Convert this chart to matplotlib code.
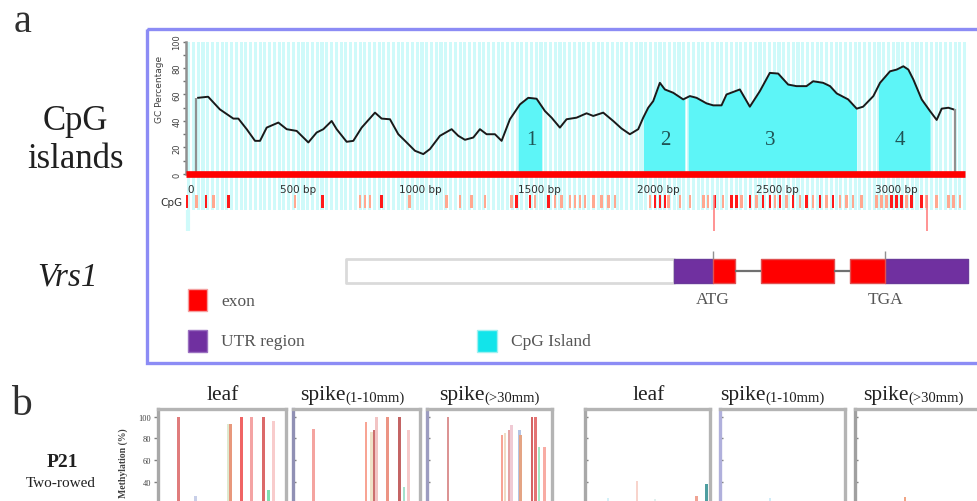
import matplotlib.pyplot as plt
import matplotlib.patches as mpatches
import numpy as np

plt.rcParams['font.family'] = ['Liberation Serif', 'DejaVu Serif']

# ---- panel a: GC content (%) along the Vrs1 region, positions in bp
gc_pos = [106, 148, 197, 254, 275, 310, 345, 366, 394, 443, 478, 520, 569, 604,
          632, 667, 688, 730, 758, 793, 849, 877, 912, 947, 982, 1017, 1052, 1080,
          1122, 1171, 1199, 1227, 1262, 1290, 1318, 1353, 1381, 1416, 1458, 1493,
          1528, 1563, 1591, 1626, 1654, 1696, 1738, 1766, 1808, 1850, 1885, 1920,
          1955, 1976, 1997, 2018, 2046, 2067, 2102, 2144, 2172, 2200, 2242, 2270,
          2305, 2326, 2382, 2424, 2466, 2508, 2543, 2585, 2620, 2662, 2690, 2732,
          2761, 2789, 2837, 2873, 2900, 2943, 2971, 3013, 3041, 3069, 3090, 3111,
          3146, 3181, 3209, 3230, 3258, 3279]
gc_val = [57.5, 58.3, 48.8, 41.8, 41.8, 33.8, 25, 25, 35, 38.8, 33.8, 32.5, 23.8, 31.3,
          33.8, 40, 33.8, 24.3, 25, 35, 46.3, 41.8, 41.3, 30, 23.8, 17.5, 15, 18.8,
          28.8, 33.8, 28.8, 25.8, 27.5, 33.8, 30, 30, 25, 41.3, 52.5, 57.5,
          56.8, 47.5, 42.5, 35, 41.3, 42.5, 45.8, 43.8, 46.3, 40, 34.3, 30,
          33.8, 42.5, 50, 55, 68.8, 63.8, 61.3, 56.3, 58.8, 57.5, 53.3, 51.8,
          51.8, 60, 63.8, 50.8, 62.5, 76.3, 75.8, 67.5, 66.3, 66.3, 70, 68.8,
          66.3, 60.8, 56.3, 49.3, 50.8, 58.8, 68.8, 77.5, 78.8, 81.3, 78.8, 71.3,
          56.3, 47.5, 40.8, 49.3, 50, 48.8]
seq_start, seq_end = 99, 3286
islands = [(1451, 1549), (1976, 2151), (2165, 2873), (2964, 3181)]
island_names = ['1', '2', '3', '4']
island_label_x = [1507, 2067, 2508, 3055]

cpg_pos = [57, 99, 139, 170, 233, 513, 629, 786, 807, 828, 877, 993, 1150, 1206,
           1255, 1311, 1423, 1444, 1500, 1521, 1577, 1605, 1633, 1668, 1689, 1710,
           1731, 1766, 1801, 1829, 1857, 2004, 2025, 2046, 2067, 2081, 2130, 2172,
           2228, 2249, 2277, 2312, 2347, 2368, 2389, 2424, 2452, 2480, 2508, 2529,
           2550, 2578, 2606, 2634, 2662, 2690, 2718, 2746, 2774, 2802, 2830, 2858,
           2893, 2956, 2977, 2998, 3019, 3040, 3061, 3082, 3103, 3145, 3166, 3208,
           3258, 3279, 3307]
cpg_strong = [57, 139, 233, 629, 877, 1444, 1500, 1577, 2025, 2046, 2067, 2277,
              2347, 2368, 2424, 2480, 2508, 2550, 2606, 2662, 2718, 2774, 3019,
              3040, 3061, 3103, 3145]
cpg_links = [2273, 3168]
scale_ticks = [500, 1000, 1500, 2000, 2500, 3000]

# gene model (bp)
promoter = (727, 2105)
utrs = [(2105, 2269), (2992, 3340)]
exons = [(2269, 2361), (2471, 2777), (2845, 2992)]
codons = {'ATG': 2269, 'TGA': 2992}

# ---- panel b: methylation (%) per site
tissues = ['leaf', 'spike', 'spike']
tissue_sub = ['', '(1-10mm)', '(>30mm)']
b_sites = [
    [16, 29.5, 55, 57, 65, 73.4, 82.5, 86.4, 90.6],
    [16.5, 57.5, 61.7, 63.8, 66.1, 74.4, 83.5, 87.4, 91.3],
    [16.8, 60, 62.4, 65.6, 67.5, 74, 75, 84, 87, 89.6, 94],
    [18.4, 41.6, 56, 89.4, 97.4],
    [40, 42.4],
    [40],
]
b_vals = [
    [100, 27, 93, 93, 100, 100, 100, 32, 96],
    [89, 95, 86, 88, 100, 100, 100, 35, 88],
    [100, 83, 85, 88, 92, 88, 83, 100, 100, 72, 72],
    [25, 41, 24, 27, 38],
    [25, 20],
    [26],
]
b_colors = [
    ['#e07c7c', '#c8cfe8', '#dfe9cf', '#e8987c', '#f06464', '#f4a4a4', '#dc6a6a', '#7fe0b0', '#f8cccc'],
    ['#f4a4a0', '#f8a494', '#efe2c8', '#cc7070', '#f2c4c4', '#ec9484', '#c46464', '#a4e2cc', '#f6caca'],
    ['#dc9494', '#f8a494', '#f0dcc4', '#e4a4a4', '#f0cad4', '#b4c4e4', '#e4a484', '#d46464', '#e47474', '#a4e8c4', '#f8aca4'],
    ['#d4f0f8', '#f8d4cc', '#e0f0ee', '#f0a494', '#4e9ea0'],
    ['#d0ecf8', '#f0a494'],
    ['#f0a484'],
]

W, H = 977, 502
fig = plt.figure(figsize=(W / 100, H / 100), dpi=100)


def px_ax(x0, y0, x1, y1):
    return fig.add_axes([x0 / W, (H - y1) / H, (x1 - x0) / W, (y1 - y0) / H])


def ftext(x, y, s, **kw):
    return fig.text(x / W, 1 - y / H, s, **kw)


# overlay for frame and legend
ov = px_ax(0, 0, W, H)
ov.set_xlim(0, W)
ov.set_ylim(H, 0)
ov.axis('off')
ov.add_patch(mpatches.Rectangle((147, 30), 850, 334, fill=False, ec='#8c8cf5', lw=2.4))
ov.add_patch(mpatches.Rectangle((188, 290), 19, 22, fc='#ff0000', ec='#f4a0a0', lw=1))
ov.add_patch(mpatches.Rectangle((188, 331), 19, 22, fc='#7030a0', ec='#9a70c0', lw=1))
ov.add_patch(mpatches.Rectangle((477, 331), 20, 22, fc='#12e4ea', ec='#a0f0f0', lw=1))
ov.text(221, 302, 'exon', fontsize=12.5, color='#555555', va='center')
ov.text(221, 342, 'UTR region', fontsize=12.5, color='#555555', va='center')
ov.text(511, 342, 'CpG Island', fontsize=12.5, color='#555555', va='center')

# GC axes
xl = (55, 3349)
ax = px_ax(186, 42.5, 970, 211)
ax.set_xlim(*xl)
ax.set_ylim(-27.2, 100)
ax.patch.set_alpha(0)
ax.bar(np.arange(60, 3340, 20), 127, bottom=-27.2, width=13, align='edge',
       color='#cffafa', zorder=0)
gx = np.array(gc_pos, float)
gy = np.array(gc_val, float)
for a, b in islands:
    xs = np.concatenate([[a], gx[(gx > a) & (gx < b)], [b]])
    ax.fill_between(xs, 0, np.interp(xs, gx, gy), color='#5df5f7', lw=0, zorder=1)
for name, lx in zip(island_names, island_label_x):
    ax.text(lx, 26, name, fontsize=15, ha='center', va='center', color='#1f5456')
ax.plot(gx, gy, color='#1a1a1a', lw=1.4, zorder=3)
ax.vlines([seq_start, seq_end], 0, [gc_val[0], gc_val[-1]], color='#909090', lw=1.6, zorder=3)
ax.hlines(0, xl[0], 3328, color='#ff0000', lw=4.8, zorder=4)
cols = ['#ff1a1a' if p in cpg_strong else '#ffa890' for p in cpg_pos]
ax.bar(cpg_pos, 10, bottom=-25.7, width=11, color=cols, zorder=2)
ax.vlines(cpg_links, -43, -16, color='#ff8080', lw=1.2, clip_on=False)
ax.vlines([xl[0] + 8], -43, -27, color='#cffafa', lw=3, clip_on=False)
for spn in ['top', 'right', 'bottom']:
    ax.spines[spn].set_visible(False)
ax.spines['left'].set_bounds(0, 100)
ax.spines['left'].set_color('#909090')
ax.spines['left'].set_linewidth(1.8)
ax.set_xticks([])
ax.set_yticks([0, 20, 40, 60, 80, 100])
ax.set_yticks(np.arange(10, 100, 20), minor=True)
ax.tick_params(axis='y', which='both', length=2.5, width=1, color='#707070',
               labelsize=6, labelcolor='#404040', pad=1)
for lab in ax.get_yticklabels():
    lab.set_rotation(90)
    lab.set_va('center')
    lab.set_family('DejaVu Sans')
ax.set_ylabel('GC Percentage', fontsize=6.5, family='DejaVu Sans', color='#404040', labelpad=2)
ax.yaxis.set_label_coords(-0.028, 0.72)
ax.text(62, -11.3, '0', fontsize=7.5, family='DejaVu Sans', color='#303030', va='center')
for t in scale_ticks:
    ax.text(t - 52, -11.3, f'{t} bp', fontsize=7.5, family='DejaVu Sans',
            color='#303030', va='center')
ftext(171, 203, 'CpG', fontsize=7.5, family='DejaVu Sans', color='#303030',
      ha='center', va='center')

# gene model axes (same bp scale)
gx_ax = px_ax(186, 240, 970, 320)
gx_ax.set_xlim(*xl)
gx_ax.set_ylim(0, 80)
gx_ax.axis('off')
gx_ax.broken_barh([(promoter[0], promoter[1] - promoter[0])], (36, 24),
                  facecolors='white', edgecolors='#dadada', lw=2)
gx_ax.hlines([48, 48], [exons[0][1], exons[1][1]], [exons[1][0], exons[2][0]],
             color='#707070', lw=1.6)
gx_ax.broken_barh([(a, b - a) for a, b in utrs], (36, 24),
                  facecolors='#7030a0', edgecolors='#6a3a9a', lw=1)
gx_ax.broken_barh([(a, b - a) for a, b in exons], (36, 24),
                  facecolors='#ff0000', edgecolors='#e05050', lw=1)
for name, pos in codons.items():
    gx_ax.vlines(pos, 60, 68, color='#909090', lw=1)
    gx_ax.text(pos, 20, name, fontsize=12.5, ha='center', va='center', color='#555555')

# left labels
ftext(14, 32, 'a', fontsize=29, color='#303030')
ftext(75, 130, 'CpG', fontsize=25, ha='center', color='#202020')
ftext(75, 168, 'islands', fontsize=25, ha='center', color='#202020')
ftext(68, 285, 'Vrs1', fontsize=24, ha='center', style='italic', color='#202020')
ftext(11, 415, 'b', fontsize=30, color='#303030')
ftext(62, 467, 'P21', fontsize=14, ha='center', weight='bold', color='#202020')
ftext(61, 487, 'Two-rowed', fontsize=11, ha='center', color='#202020')
ftext(123, 428, 'Methylation (%)', fontsize=7, rotation=90, ha='center', va='top',
      weight='bold', color='#404040')

# methylation panels
boxes = [(158, 286), (293, 420), (427, 552), (585, 710), (720, 845), (855, 980)]
left_cols = ['#a8a8a8', '#9090b4', '#9c9cc0', '#a8a8a8', '#b0b0dc', '#a0a0a0']
title_x = [223, 300, 439, 649, 720, 863]
for i, (x0, x1) in enumerate(boxes):
    bx = px_ax(x0, 410, x1, 526)
    bx.set_xlim(0, 100)
    bx.set_ylim(0, 107.1)
    bx.bar(b_sites[i], b_vals[i], width=2.3, color=b_colors[i], lw=0)
    for spn in bx.spines.values():
        spn.set_color('#b4b4b4')
        spn.set_linewidth(2.4)
    bx.spines['left'].set_color(left_cols[i])
    bx.set_xticks([])
    bx.set_yticks([20, 40, 60, 80, 100])
    if i == 0:
        bx.set_yticklabels(['', '40', '60', '80', '100'])
        bx.tick_params(axis='y', length=3, width=1, color='#808080', labelsize=6,
                       labelcolor='#404040', pad=2)
    else:
        bx.tick_params(axis='y', length=2, width=1, color='#808080', direction='in',
                       labelleft=False)
    k = i % 3
    if tissue_sub[k]:
        main = ftext(title_x[i], 400, tissues[k], fontsize=15.5, color='#202020')
        bx.annotate(tissue_sub[k], xy=(1, 0), xycoords=main, fontsize=10.5,
                    color='#202020', va='bottom', ha='left', annotation_clip=False)
    else:
        ftext(title_x[i], 400, tissues[k], fontsize=15.5, ha='center', color='#202020')

fig.savefig('out.png', dpi=100)
